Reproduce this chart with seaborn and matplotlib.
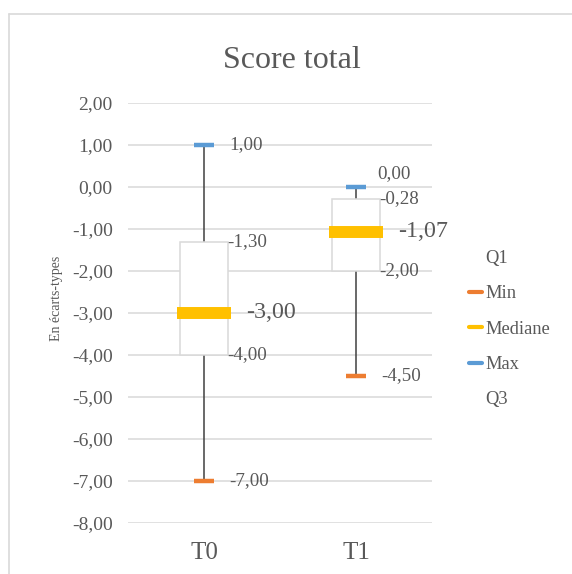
"""
plot.py - Score total : min / Q1 / médiane / Q3 / max par temps de mesure
"""

import matplotlib
matplotlib.use("Agg")
import matplotlib.pyplot as plt
from matplotlib.lines import Line2D
import pandas as pd
import seaborn as sns


# Données
temps = ["T0", "T1"]
val_min = [-7.00, -4.50]
val_q1 = [-4.00, -2.00]
val_med = [-3.00, -1.07]
val_q3 = [-1.30, -0.28]
val_max = [1.00, 0.00]
y_ticks = [2, 1, 0, -1, -2, -3, -4, -5, -6, -7, -8]

# Couleurs (palette Office)
C_MIN = "#ED7D31"
C_MED = "#FFC000"
C_MAX = "#5B9BD5"
C_GRID = "#D9D9D9"
C_TEXT = "#595959"
C_WHISK = "#404040"


def fmt(v):
    return f"{v:.2f}".replace(".", ",")


def run():
    sns.set_theme(style="white")
    plt.rcParams["font.family"] = ["Liberation Serif", "DejaVu Serif"]

    df = pd.DataFrame({"temps": temps, "min": val_min, "q1": val_q1,
                       "med": val_med, "q3": val_q3, "max": val_max})
    x = list(range(len(df)))

    fig = plt.figure(figsize=(5.72, 5.74), dpi=100)
    ax = fig.add_axes([128 / 572, 1 - 523 / 574, 304 / 572, 420 / 574])

    # ── Bordure du graphique ─────────────────────────────────
    fig.add_artist(Line2D([9 / 572, 9 / 572], [0, 1 - 14 / 574],
                          transform=fig.transFigure, color=C_GRID, lw=1.2))
    fig.add_artist(Line2D([9 / 572, 1], [1 - 14 / 574, 1 - 14 / 574],
                          transform=fig.transFigure, color=C_GRID, lw=1.2))

    # ── Moustaches + boîtes ──────────────────────────────────
    ax.vlines(x, df["min"], df["max"], color=C_WHISK, lw=1.1, zorder=2)
    ax.bar(x, df["q3"] - df["q1"], bottom=df["q1"], width=0.316,
           color="white", edgecolor=C_GRID, linewidth=1.1, zorder=3)

    # ── Marqueurs min / médiane / max ────────────────────────
    ax.hlines(df["min"], [i - 0.066 for i in x], [i + 0.066 for i in x],
              color=C_MIN, lw=3.2, capstyle="butt", zorder=4)
    ax.hlines(df["max"], [i - 0.066 for i in x], [i + 0.066 for i in x],
              color=C_MAX, lw=3.2, capstyle="butt", zorder=4)
    ax.hlines(df["med"], [i - 0.18 for i in x], [i + 0.18 for i in x],
              color=C_MED, lw=8.6, capstyle="butt", zorder=4)

    # ── Étiquettes de données ────────────────────────────────
    small = dict(fontsize=13.7, color=C_TEXT, va="center", ha="left",
                 textcoords="offset points", zorder=5)
    for i, r in df.iterrows():
        ax.annotate(fmt(r["q3"]), (i, r["q3"]), xytext=(17, 0), **small)
        ax.annotate(fmt(r["q1"]), (i, r["q1"]), xytext=(17, 0), **small)
        ax.annotate(fmt(r["min"]), (i, r["min"]), xytext=(18.5, 0), **small)
        ax.annotate(fmt(r["med"]), (i, r["med"]), xytext=(30.5, 0),
                    **{**small, "fontsize": 17.3})
    ax.annotate(fmt(df["max"][0]), (0, df["max"][0]), xytext=(18.5, 0), **small)
    ax.annotate(fmt(df["max"][1]), (1, df["max"][1]), xytext=(15, 10), **small)

    # ── Axes ─────────────────────────────────────────────────
    ax.set_xlim(-0.5, 1.5)
    ax.set_ylim(-8, 2)
    ax.set_xticks(x)
    ax.set_xticklabels(df["temps"], fontsize=18, color=C_TEXT)
    ax.set_yticks(y_ticks)
    ax.set_yticklabels([fmt(v) for v in y_ticks], fontsize=14, color=C_TEXT)
    ax.tick_params(axis="x", length=0, pad=14)
    ax.tick_params(axis="y", length=0, pad=11)
    ax.grid(axis="y", color=C_GRID, lw=1.1)
    ax.set_axisbelow(True)
    for s in ax.spines.values():
        s.set_visible(False)
    ax.set_ylabel("En écarts-types", fontsize=10, color=C_TEXT)
    ax.yaxis.set_label_coords(-0.214, 0.536)

    fig.text(292 / 572, 1 - 68 / 574, "Score total", fontsize=23,
             color=C_TEXT, ha="center", va="baseline")

    # ── Légende ──────────────────────────────────────────────
    handles = [
        Line2D([], [], color="none"),
        Line2D([], [], color=C_MIN, lw=3),
        Line2D([], [], color=C_MED, lw=3),
        Line2D([], [], color=C_MAX, lw=3),
        Line2D([], [], color="none"),
    ]
    leg = fig.legend(handles, ["Q1", "Min", "Mediane", "Max", "Q3"],
                     loc="center left", bbox_to_anchor=(469 / 572, 1 - 329 / 574),
                     frameon=False, fontsize=13.3, handlelength=0.72,
                     handletextpad=0.15, labelspacing=1.0, borderpad=0,
                     borderaxespad=0)
    for t in leg.get_texts():
        t.set_color(C_TEXT)

    fig.savefig("out.png", dpi=100, facecolor="white")
    plt.close(fig)


if __name__ == "__main__":
    run()
